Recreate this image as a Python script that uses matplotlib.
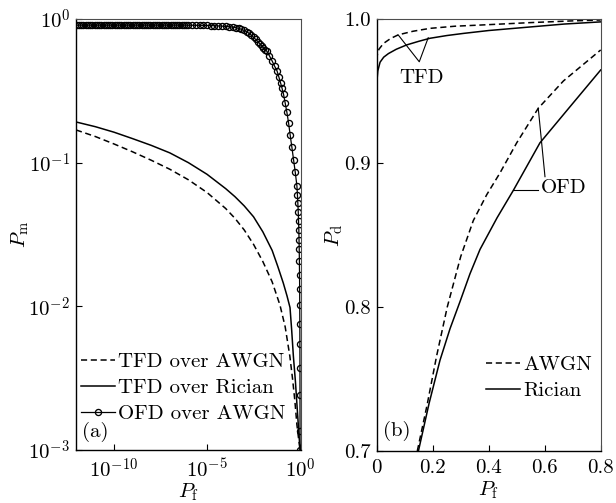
import numpy as np
import matplotlib
matplotlib.use("Agg")
import matplotlib.pyplot as plt
from matplotlib.ticker import NullLocator

plt.rcParams['font.family'] = ['cmr10', 'DejaVu Serif']
plt.rcParams['mathtext.fontset'] = 'cm'
plt.rcParams['axes.formatter.use_mathtext'] = True
plt.rcParams['axes.unicode_minus'] = False

FS = 15

# ---------------- Panel (a): Pm vs Pf (log-log) ----------------
# TFD over AWGN (dashed): log10(Pf), Pm
tfd_awgn_logpf = [-12.04, -11.0, -10.0, -9.0, -8.0, -7.0, -6.0, -5.0, -4.0, -3.5, -3.0, -2.5, -2.0,
                  -1.5, -1.08, -0.8, -0.55, -0.4, -0.28, -0.17, -0.08, 0.0]
tfd_awgn_pm    = [0.169, 0.152, 0.135, 0.119, 0.104, 0.090, 0.076, 0.062, 0.048, 0.041, 0.034, 0.027, 0.0205,
                  0.0148, 0.0102, 0.0072, 0.0045, 0.0031, 0.0022, 0.0015, 0.0012, 0.001]

# TFD over Rician (solid)
tfd_rice_logpf = [-12.04, -11.0, -10.0, -9.0, -8.0, -7.0, -6.0, -5.0, -4.0, -3.5, -3.0, -2.5, -2.0,
                  -1.5, -1.2, -0.9, -0.7, -0.54, -0.45, -0.36, -0.25, -0.16, -0.08, 0.0]
tfd_rice_pm    = [0.192, 0.178, 0.163, 0.147, 0.132, 0.117, 0.100, 0.083, 0.066, 0.058, 0.050, 0.042, 0.033,
                  0.0245, 0.019, 0.0145, 0.0118, 0.0098, 0.0068, 0.0045, 0.0030, 0.0020, 0.0014, 0.001]

# OFD over AWGN (line with open circles)
ofd_logpf = [-12.0, -11.88, -11.76, -11.64, -11.52, -11.4, -11.28, -11.16, -11.04, -10.92,
             -10.8, -10.68, -10.56, -10.44, -10.32, -10.2, -10.08, -9.96, -9.84, -9.72,
             -9.6, -9.48, -9.36, -9.24, -9.12, -9.0, -8.88, -8.76, -8.64, -8.52,
             -8.4, -8.28, -8.16, -8.04, -7.92, -7.8, -7.68, -7.56, -7.44, -7.32,
             -7.2, -7.08, -6.96, -6.84, -6.72, -6.6, -6.48, -6.36, -6.24, -6.12,
             -6.0, -5.8, -5.6, -5.4, -5.2, -5.0, -4.8, -4.6, -4.4, -4.2,
             -4.0, -3.8, -3.6, -3.45, -3.3, -3.15, -3.0, -2.87, -2.75, -2.62,
             -2.5, -2.38, -2.27, -2.17, -2.07, -1.97, -1.87, -1.78, -1.65, -1.5,
             -1.37, -1.24, -1.14, -1.05, -0.97, -0.89, -0.8, -0.71, -0.62, -0.53,
             -0.44, -0.35, -0.26, -0.17, -0.143, -0.119, -0.097, -0.081, -0.066, -0.056,
             -0.046, -0.036, -0.029, -0.022, -0.018, -0.013, -0.0097, -0.0066, -0.0044, -0.0022,
             -0.0004]
ofd_pm = [0.906, 0.906, 0.906, 0.906, 0.906, 0.906, 0.906, 0.906, 0.906, 0.906,
          0.906, 0.906, 0.906, 0.906, 0.906, 0.906, 0.906, 0.906, 0.906, 0.906,
          0.906, 0.906, 0.906, 0.906, 0.906, 0.906, 0.906, 0.906, 0.906, 0.906,
          0.906, 0.906, 0.906, 0.906, 0.906, 0.906, 0.906, 0.906, 0.906, 0.906,
          0.906, 0.906, 0.906, 0.906, 0.906, 0.906, 0.906, 0.906, 0.906, 0.906,
          0.905, 0.905, 0.904, 0.904, 0.903, 0.902, 0.900, 0.898, 0.895, 0.892,
          0.888, 0.883, 0.877, 0.870, 0.860, 0.848, 0.832, 0.815, 0.797, 0.772,
          0.745, 0.720, 0.697, 0.675, 0.652, 0.630, 0.612, 0.595, 0.555, 0.510,
          0.470, 0.436, 0.395, 0.360, 0.330, 0.300, 0.260, 0.225, 0.190, 0.155,
          0.128, 0.105, 0.086, 0.069, 0.060, 0.052, 0.045, 0.039, 0.034, 0.029,
          0.025, 0.0206, 0.0166, 0.0131, 0.0102, 0.00753, 0.00543, 0.00375, 0.0024, 0.00136,
          0.001]

a_xticks = [1e-10, 1e-5, 1e0]
a_xticklabels = [r'$10^{-10}$', r'$10^{-5}$', r'$10^{0}$']
a_yticks = [1e-3, 1e-2, 1e-1, 1e0]
a_yticklabels = [r'$10^{-3}$', r'$10^{-2}$', r'$10^{-1}$', r'$10^{0}$']
a_labels = ['TFD over AWGN', 'TFD over Rician', 'OFD over AWGN']

# ---------------- Panel (b): Pd vs Pf (linear) ----------------
tfd_awgn_pf = [0.0, 0.0, 0.003, 0.008, 0.024, 0.05, 0.077, 0.13, 0.19, 0.28, 0.37, 0.55, 0.7, 0.8]
tfd_awgn_pd = [0.7, 0.972, 0.976, 0.979, 0.983, 0.9865, 0.989, 0.9915, 0.9935, 0.995, 0.9958, 0.9975, 0.9987, 0.9993]

tfd_rice_pf = [0.0, 0.0, 0.004, 0.012, 0.025, 0.042, 0.07, 0.107, 0.15, 0.19, 0.25, 0.31, 0.4, 0.49, 0.58, 0.67, 0.8]
tfd_rice_pd = [0.7, 0.955, 0.964, 0.970, 0.9735, 0.976, 0.979, 0.982, 0.9845, 0.9866, 0.9885, 0.990, 0.992, 0.9935, 0.995, 0.9965, 0.998]

ofd_awgn_pf = [0.145, 0.18, 0.214, 0.252, 0.30, 0.345, 0.393, 0.44, 0.5, 0.577, 0.667, 0.8]
ofd_awgn_pd = [0.700, 0.732, 0.766, 0.800, 0.835, 0.860, 0.878, 0.893, 0.914, 0.938, 0.957, 0.9785]

ofd_rice_pf = [0.149, 0.187, 0.226, 0.262, 0.298, 0.333, 0.369, 0.43, 0.488, 0.583, 0.69, 0.8]
ofd_rice_pd = [0.700, 0.733, 0.763, 0.785, 0.804, 0.823, 0.840, 0.862, 0.881, 0.914, 0.939, 0.9646]

b_xticks = [0.0, 0.2, 0.4, 0.6, 0.8]
b_xticklabels = ['0', '0.2', '0.4', '0.6', '0.8']
b_yticks = [0.7, 0.8, 0.9, 1.0]
b_yticklabels = ['0.7', '0.8', '0.9', '1.0']
b_labels = ['AWGN', 'Rician']

W, H = 616, 503
fig = plt.figure(figsize=(W / 100, H / 100), dpi=100)

dash = (0, (4.0, 2.4))
LW = 1.1


def style_axes(ax):
    ax.tick_params(direction='in', length=4, width=0.8, labelsize=FS, pad=4.2,
                   top=False, right=False)
    ax.tick_params(axis='x', pad=5.5)
    for s in ['left', 'bottom']:
        ax.spines[s].set_linewidth(1.0)
        ax.spines[s].set_color('black')
    for s in ['top', 'right']:
        ax.spines[s].set_linewidth(0.8)
        ax.spines[s].set_color('0.3')


# Panel (a)
axa = fig.add_axes([76 / W, (H - 450) / H, 225 / W, 431 / H])
axa.plot(10 ** np.array(tfd_awgn_logpf), tfd_awgn_pm, color='black', lw=LW, linestyle=dash,
         label=a_labels[0])
axa.plot(10 ** np.array(tfd_rice_logpf), tfd_rice_pm, color='black', lw=LW, label=a_labels[1])
axa.plot(10 ** np.array(ofd_logpf), ofd_pm, color='black', lw=0.9, marker='o', ms=4.4,
         mfc='none', mec='black', mew=0.95, label=a_labels[2])
axa.set_xscale('log')
axa.set_yscale('log')
axa.set_xlim(10 ** -12.04, 10 ** 0.05)
axa.set_ylim(1e-3, 1.0)
axa.set_xticks(a_xticks)
axa.set_xticklabels(a_xticklabels)
axa.set_yticks(a_yticks)
axa.set_yticklabels(a_yticklabels)
axa.xaxis.set_minor_locator(NullLocator())
axa.yaxis.set_minor_locator(NullLocator())
style_axes(axa)
axa.set_xlabel(r'$P_{\rm f}$', fontsize=FS)
axa.set_ylabel(r'$P_{\rm m}$', fontsize=FS)
axa.xaxis.set_label_coords(0.5, -0.097)
axa.yaxis.set_label_coords(-0.25, 0.5)
axa.xaxis.label.set_va('center')
axa.yaxis.label.set_va('center')
axa.legend(loc='lower left', bbox_to_anchor=(0.02, 0.062), frameon=False, fontsize=FS,
           handlelength=1.65, handletextpad=0.15, labelspacing=0.36, borderpad=0,
           borderaxespad=0, numpoints=1)
axa.text(0.025, 0.042, '(a)', transform=axa.transAxes, fontsize=FS, ha='left', va='center')

# Panel (b)
axb = fig.add_axes([376.7 / W, (H - 451) / H, 224 / W, 432 / H])
axb.plot(tfd_awgn_pf, tfd_awgn_pd, color='black', lw=LW, linestyle=dash, label=b_labels[0])
axb.plot(tfd_rice_pf, tfd_rice_pd, color='black', lw=LW, label=b_labels[1])
axb.plot(ofd_awgn_pf, ofd_awgn_pd, color='black', lw=LW, linestyle=dash)
axb.plot(ofd_rice_pf, ofd_rice_pd, color='black', lw=LW)
axb.set_xlim(0, 0.8)
axb.set_ylim(0.7, 1.0)
axb.set_xticks(b_xticks)
axb.set_xticklabels(b_xticklabels)
axb.set_yticks(b_yticks)
axb.set_yticklabels(b_yticklabels)
style_axes(axb)
axb.set_xlabel(r'$P_{\rm f}$', fontsize=FS)
axb.set_ylabel(r'$P_{\rm d}$', fontsize=FS)
axb.xaxis.set_label_coords(0.5, -0.09)
axb.yaxis.set_label_coords(-0.19, 0.5)
axb.xaxis.label.set_va('center')
axb.yaxis.label.set_va('center')
axb.legend(loc='lower left', bbox_to_anchor=(0.488, 0.117), frameon=False, fontsize=FS,
           handlelength=1.65, handletextpad=0.15, labelspacing=0.36, borderpad=0,
           borderaxespad=0)
axb.text(0.028, 0.046, '(b)', transform=axb.transAxes, fontsize=FS, ha='left', va='center')

# annotations
axb.text(0.161, 0.959, 'TFD', fontsize=FS, ha='center', va='center')
axb.plot([0.077, 0.152, 0.184], [0.9889, 0.9703, 0.987], color='black', lw=0.8)
axb.text(0.586, 0.8824, 'OFD', fontsize=FS, ha='left', va='center')
axb.plot([0.577, 0.601], [0.938, 0.8905], color='black', lw=0.8)
axb.plot([0.488, 0.577], [0.881, 0.881], color='black', lw=0.8)

fig.savefig('out.png', dpi=100)
